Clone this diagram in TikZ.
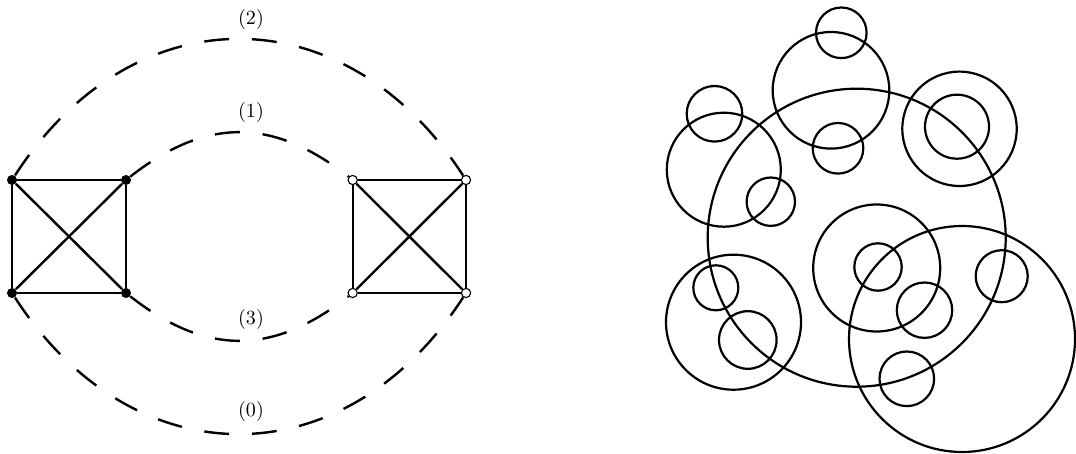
\documentclass[tikz,border=0pt]{standalone}
\tikzset{
  fullv/.style={circle, fill=black, inner sep=0pt, minimum size=5pt},
  openv/.style={circle, draw=black, fill=white, line width=0.55pt, inner sep=0pt, minimum size=4.6pt},
  edge/.style={line width=1.2pt},
  route/.style={line width=1.2pt, dash pattern=on 12.4pt off 11.4pt},
  ring/.style={line width=1.1pt},
}
\begin{document}
\begin{tikzpicture}[x=0.0175cm, y=-0.0175cm]
    \useasboundingbox (0,0) rectangle (1076,454);

    % two K4 blocks
    \node[fullv] (a1) at (12,180) {};
    \node[fullv] (a2) at (126,180) {};
    \node[fullv] (a3) at (12,293) {};
    \node[fullv] (a4) at (126,293) {};
    \node[openv] (b1) at (352.7,180) {};
    \node[openv] (b2) at (466,180) {};
    \node[openv] (b3) at (352.7,293) {};
    \node[openv] (b4) at (466,293) {};

    \draw[edge] (a1) -- (a2) -- (a4) -- (a3) -- (a1);
    \draw[edge] (a1) -- (a4);
    \draw[edge] (a2) -- (a3);
    \draw[edge] (b1) -- (b2) -- (b4) -- (b3) -- (b1);
    \draw[edge] (b1) -- (b4);
    \draw[edge] (b2) -- (b3);

    % dashed routes between the blocks
    \draw[route] (a1) .. controls (133,-6.7) and (345,-6.7) .. (b2);
    \draw[route] (a2) .. controls (206,117.3) and (272.7,117.3) .. (b1);
    \draw[route] (a4) .. controls (206,355.7) and (272.7,355.7) .. (b3);
    \draw[route] (a3) .. controls (133,479.7) and (345,479.7) .. (b4);

    \node (l2) at (251,19) {(2)};
    \node (l1) at (251,112) {(1)};
    \node (l3) at (251,319) {(3)};
    \node (l0) at (251,411.7) {(0)};

    % circles
    \foreach \cx/\cy/\r in {856.7/237.7/149, 962/339/113, 831/90.3/58.3,
        841.3/32.8/25.3, 838/148.3/25.3, 723.8/169.7/57, 714.5/113.8/27.8,
        770.8/201.7/24.2, 959.5/128.8/57.2, 957/126.7/32, 876.7/268/63.5,
        878/267/23.7, 924.5/310.2/27.7, 1001.7/276.2/26, 906.8/378.8/27.3,
        733.5/322.2/67.5, 715.8/287.8/22.5, 747.8/340/28.8}
        \draw[ring] (\cx,\cy) circle (\r);
\end{tikzpicture}
\end{document}
